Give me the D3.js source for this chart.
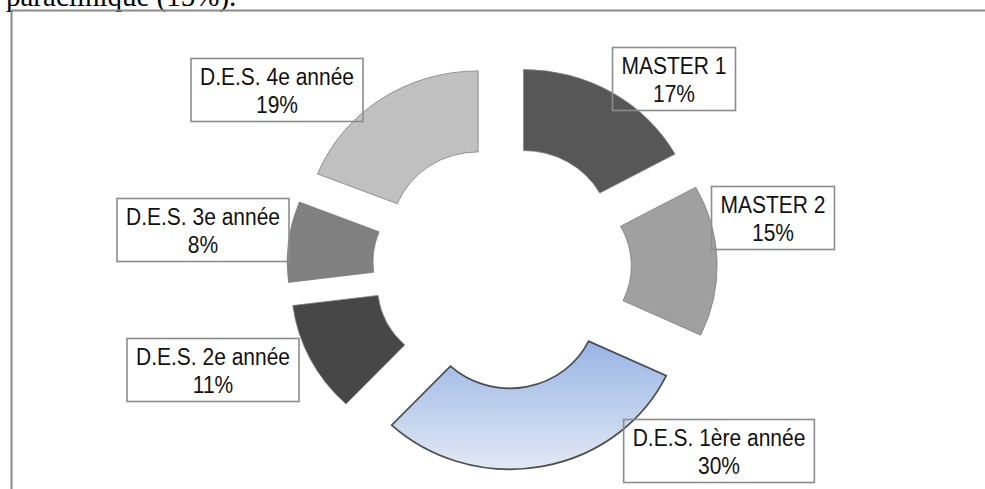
<!DOCTYPE html>
<html>
<head>
<meta charset="utf-8">
<script src="https://cdn.jsdelivr.net/npm/d3@7"></script>
<style>
  body { margin: 0; background: #fff; }
  svg { display: block; }
</style>
</head>
<body>
<svg id="chart" width="985" height="489"></svg>
<script>
// data
var categories = ["MASTER 1", "MASTER 2", "D.E.S. 1ère année", "D.E.S. 2e année", "D.E.S. 3e année", "D.E.S. 4e année"];
var percents = [17, 15, 30, 11, 8, 19];
var fills = ["#575757", "#a0a0a0", "url(#blueGrad)", "#474747", "#808080", "#c0c0c0"];

// layout: where each label box sits (manually placed in the original)
var labelCenters = [[674, 79], [773, 218], [719, 451], [213, 370], [203, 230], [277, 90]];

var cx = 502, cy = 267, sx = 1.06;
var rInner = 82, rOuter = 163, explode = 40;

var svg = d3.select("#chart");

// gradient for the highlighted slice
var defs = svg.append("defs");
var grad = defs.append("linearGradient")
  .attr("id", "blueGrad")
  .attr("x1", 0).attr("y1", 0).attr("x2", 0).attr("y2", 1);
grad.append("stop").attr("offset", "0%").attr("stop-color", "#98b4e4");
grad.append("stop").attr("offset", "100%").attr("stop-color", "#e2e9f5");

// text from the document above the figure (cut off, as in the original)
svg.append("text")
  .attr("x", 6).attr("y", 6)
  .attr("font-family", "'Liberation Serif', 'Times New Roman', serif")
  .attr("font-size", 29)
  .attr("fill", "#000")
  .text("paraclinique (15%).");

// frame
svg.append("line").attr("x1", 11).attr("y1", 10.5).attr("x2", 985).attr("y2", 10.5)
  .attr("stroke", "#8a8a8a").attr("stroke-width", 2);
svg.append("line").attr("x1", 11.5).attr("y1", 10).attr("x2", 11.5).attr("y2", 489)
  .attr("stroke", "#8a8a8a").attr("stroke-width", 2);

var pie = d3.pie().sort(null).value((d) => d);
var arcs = pie(percents);
var arc = d3.arc().innerRadius(rInner).outerRadius(rOuter);

var g = svg.append("g")
  .attr("transform", `translate(${cx},${cy}) scale(${sx},1)`);

g.selectAll("path")
  .data(arcs)
  .enter()
  .append("path")
  .attr("d", arc)
  .attr("transform", (d) => {
    var mid = (d.startAngle + d.endAngle) / 2;
    return `translate(${explode * Math.sin(mid)},${-explode * Math.cos(mid)})`;
  })
  .attr("fill", (d, i) => fills[i])
  .attr("stroke", (d, i) => (i == 2 ? "#4d4d4d" : "#7d7d7d"))
  .attr("stroke-width", (d, i) => (i == 2 ? 1.7 : 0.8))
  .attr("vector-effect", "non-scaling-stroke");

// labels
var labels = svg.selectAll("g.label")
  .data(arcs)
  .enter()
  .append("g")
  .attr("class", "label")
  .attr("transform", (d, i) => `translate(${labelCenters[i][0]},${labelCenters[i][1]})`);

labels.each(function (d, i) {
  var lab = d3.select(this);
  var rect = lab.append("rect");
  // the original font is slightly stretched vertically
  var t = lab.append("text")
    .attr("text-anchor", "middle")
    .attr("transform", "scale(1,1.1)")
    .attr("font-family", "'Liberation Sans', Arial, sans-serif")
    .attr("font-size", 21)
    .attr("fill", "#111");
  t.append("tspan").attr("x", 0).attr("y", -4.5).text(categories[i]);
  t.append("tspan").attr("x", 0).attr("y", 21).text(`${percents[i]}%`);
  var w = t.node().getBBox().width + 18;
  rect.attr("x", -w / 2).attr("y", -31.5).attr("width", w).attr("height", 63)
    .attr("fill", "none").attr("stroke", "#8c8c8c").attr("stroke-width", 1.6);
});
</script>
</body>
</html>
